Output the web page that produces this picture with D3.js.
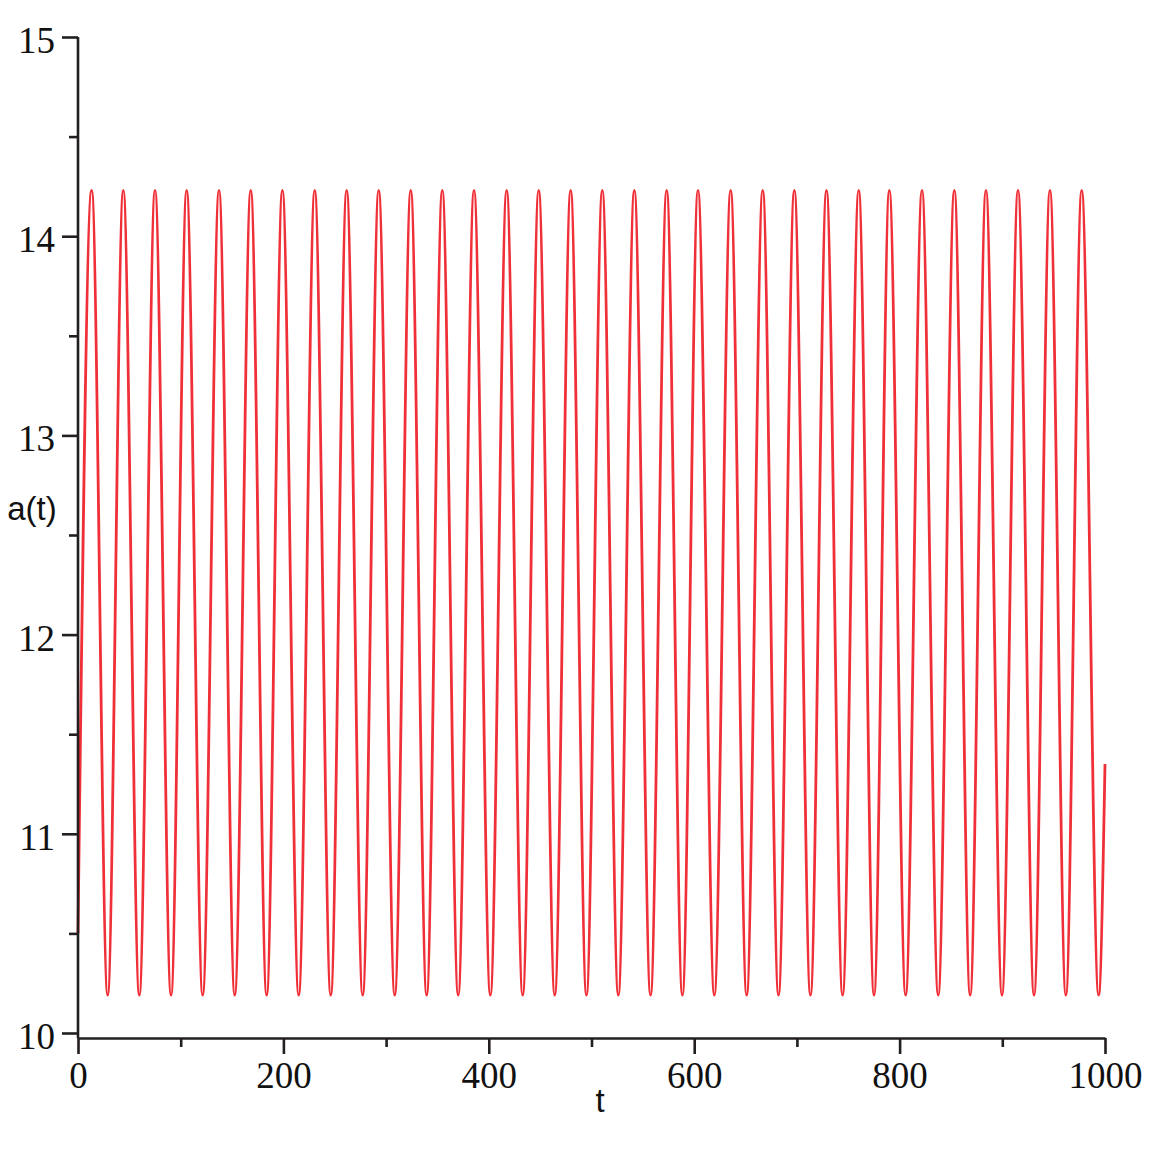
<!DOCTYPE html>
<html>
<head>
<meta charset="utf-8">
<script src="https://cdn.jsdelivr.net/npm/d3@7"></script>
<style>
  body { margin: 0; background: #fff; }
  svg { display: block; }
</style>
</head>
<body>
<svg id="chart"></svg>
<script>
let w = 1157;
let h = 1157;

// times (t) of each maximum and minimum of a(t)
let peakTimes = [13.3, 44.1, 75.0, 105.8, 137.3, 168.2, 199.0, 230.5, 261.6, 292.8,
  324.0, 354.7, 385.6, 417.4, 448.6, 479.7, 510.5, 541.7, 573.2, 603.7,
  635.5, 666.7, 697.5, 728.8, 760.2, 790.0, 821.8, 853.3, 884.1, 915.3,
  946.4, 977.3];
let troughTimes = [28.9, 59.7, 90.6, 121.4, 152.6, 183.7, 214.9, 246.1, 277.2, 308.4,
  339.5, 370.2, 401.5, 433.0, 464.2, 495.1, 526.1, 557.5, 588.5, 619.6,
  651.1, 682.1, 713.2, 744.5, 775.1, 805.9, 837.6, 868.7, 899.7, 930.9,
  961.9, 993.8];
let peakLevel = 14.23;
let troughLevel = 10.19;
let startPoint = [0, 10.5];
let endPoint = [1000, 11.35];

let yTicks = [10, 11, 12, 13, 14, 15];
let yMinor = [10.5, 11.5, 12.5, 13.5, 14.5];
let xTicks = [0, 200, 400, 600, 800, 1000];
let xMinor = [100, 300, 500, 700, 900];

// build the list of extrema in time order
let points = [startPoint];
peakTimes.forEach((t) => points.push([t, peakLevel]));
troughTimes.forEach((t) => points.push([t, troughLevel]));
points.push(endPoint);
points.sort((a, b) => a[0] - b[0]);

let svg = d3.select("#chart")
  .attr("width", w)
  .attr("height", h);

let xScale = d3.scaleLinear().domain([0, 1000]).range([78, 1105]);
let yScale = d3.scaleLinear().domain([10, 15]).range([1033, 37]);
let xAxisY = 1038;

// curve
let line = d3.line()
  .x((d) => xScale(d[0]))
  .y((d) => yScale(d[1]))
  .curve(d3.curveMonotoneX);

svg.append("path")
  .datum(points)
  .attr("d", line)
  .attr("fill", "none")
  .attr("stroke", "#ef3038")
  .attr("stroke-width", 2.8)
  .attr("stroke-linejoin", "round");

let axisColor = "#231f20";
let tickFont = "'Liberation Serif', 'DejaVu Serif', serif";
let fmt = d3.format("d");

function styleAxis(g) {
  g.select(".domain").attr("stroke", axisColor).attr("stroke-width", 2.6);
  g.selectAll(".tick line").attr("stroke", axisColor).attr("stroke-width", 2.6);
  g.selectAll(".tick text")
    .attr("fill", "#111")
    .style("font-family", tickFont)
    .style("font-size", "37px");
}

// y axis
let yAxisG = svg.append("g")
  .attr("transform", `translate(${xScale(0)},0)`)
  .call(d3.axisLeft(yScale).tickValues(yTicks).tickFormat(fmt)
    .tickSize(16).tickSizeOuter(0).tickPadding(7));
yAxisG.select(".domain").attr("d", `M0,${yScale(15)}V${xAxisY}`);
styleAxis(yAxisG);
yAxisG.selectAll(".tick text").attr("dy", "0.42em");

svg.append("g")
  .attr("transform", `translate(${xScale(0)},0)`)
  .call(d3.axisLeft(yScale).tickValues(yMinor).tickSize(9).tickFormat(""))
  .call((g) => g.select(".domain").remove())
  .call(styleAxis);

// x axis
let xAxisG = svg.append("g")
  .attr("transform", `translate(0,${xAxisY})`)
  .call(d3.axisBottom(xScale).tickValues(xTicks).tickFormat(fmt)
    .tickSize(16).tickSizeOuter(0).tickPadding(8));
styleAxis(xAxisG);

svg.append("g")
  .attr("transform", `translate(0,${xAxisY})`)
  .call(d3.axisBottom(xScale).tickValues(xMinor).tickSize(9).tickFormat(""))
  .call((g) => g.select(".domain").remove())
  .call(styleAxis);

// axis titles
let titleFont = "'Liberation Sans', 'DejaVu Sans', sans-serif";
svg.append("text")
  .attr("x", 32)
  .attr("y", 520)
  .attr("text-anchor", "middle")
  .style("font-family", titleFont)
  .style("font-size", "33px")
  .attr("fill", "#111")
  .text("a(t)");

svg.append("text")
  .attr("x", 600)
  .attr("y", 1112)
  .attr("text-anchor", "middle")
  .style("font-family", titleFont)
  .style("font-size", "33px")
  .attr("fill", "#111")
  .text("t");
</script>
</body>
</html>
